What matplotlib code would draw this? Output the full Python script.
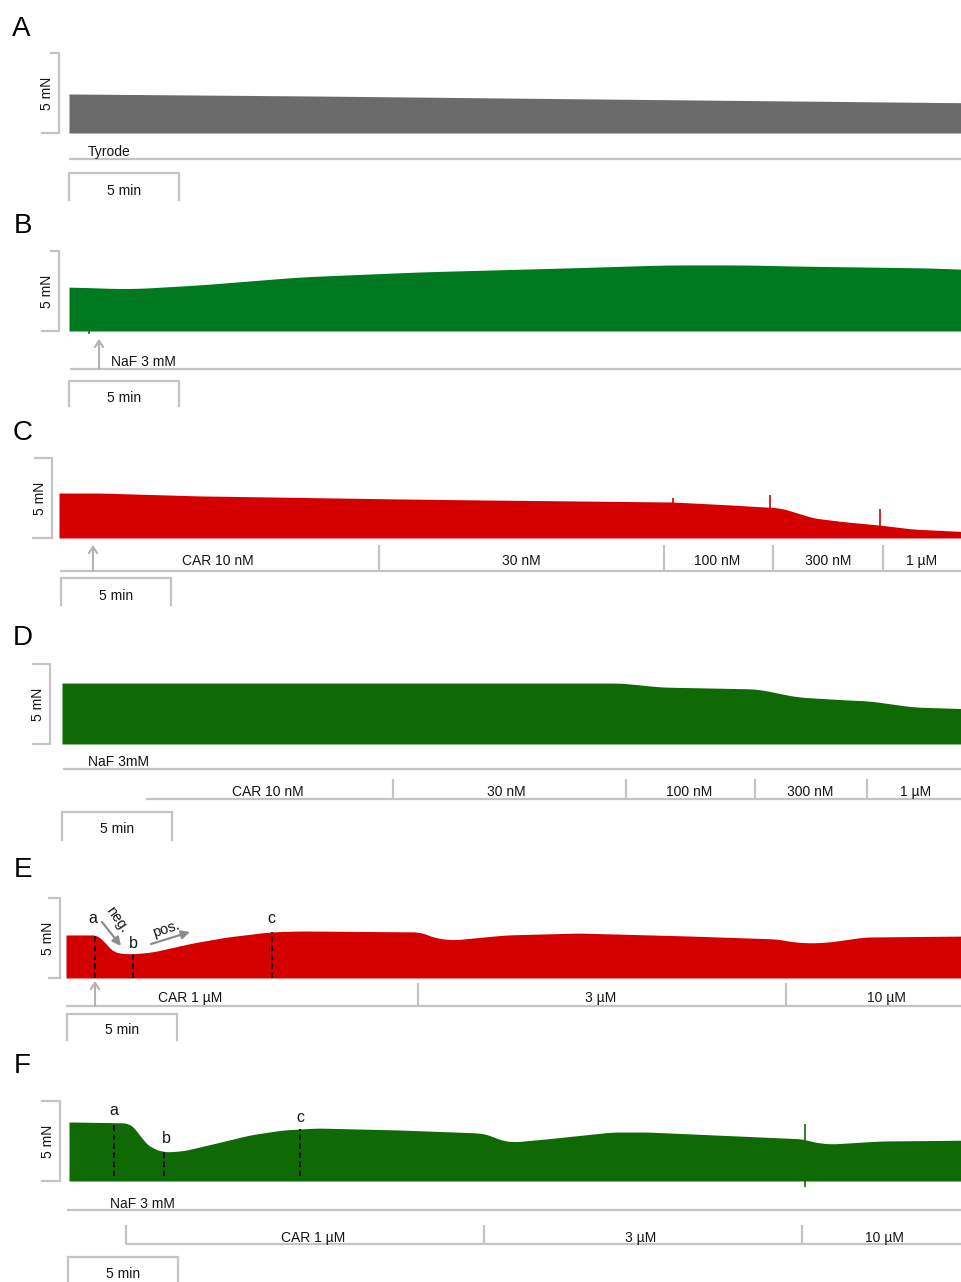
import matplotlib.pyplot as plt
import numpy as np

plt.rcParams['font.family'] = ['Liberation Sans', 'DejaVu Sans']

W, H = 961, 1282
PX_MIN = 22.0   # pixels per minute on the page
PX_MN = 16.0    # pixels per mN on the page

# ---- traces: minutes from start of recording, upper envelope of twitches (mN)
t_A = [0, 11.4, 19.6, 28.7, 41.5]
top_A = [2.44, 2.31, 2.19, 2.06, 1.88]

t_B = [0, 2.77, 5.95, 10.5, 15.9, 22.6, 27.2, 30.8, 32.9, 39.2, 41.5]
top_B = [2.75, 2.63, 2.88, 3.38, 3.69, 3.94, 4.13, 4.13, 4.06, 3.94, 3.81]

t_C = [0, 1.86, 6.4, 15.5, 19.1, 27.9, 30.6, 32.8, 34.3, 35.8, 37.3, 38.8, 41.5]
top_C = [2.81, 2.81, 2.63, 2.44, 2.38, 2.25, 2.06, 1.88, 1.25, 1.0, 0.81, 0.56, 0.38]
spike_t_C = [27.9, 32.3, 37.3]
spike_top_C = [2.5, 2.69, 1.81]

t_D = [0, 19.0, 25.4, 27.2, 31.6, 33.4, 35.7, 36.7, 38.7, 41.5]
top_D = [3.81, 3.81, 3.81, 3.56, 3.44, 2.94, 2.75, 2.69, 2.31, 2.19]

t_E = [0, 1.55, 1.77, 2.0, 2.32, 3.0, 3.95, 5.77, 7.32, 9.27, 10.6, 16.1, 16.8,
       17.6, 20.0, 23.3, 28.2, 32.3, 33.1, 33.9, 34.7, 36.3, 41.5]
top_E = [2.69, 2.69, 2.19, 1.75, 1.56, 1.5, 1.63, 2.19, 2.56, 2.88, 2.94, 2.88, 2.5,
         2.38, 2.69, 2.81, 2.63, 2.44, 2.25, 2.19, 2.25, 2.56, 2.63]
marks_E = [1.32, 3.05, 9.36]

t_F = [0, 2.77, 3.09, 3.32, 3.68, 4.27, 5.18, 6.73, 8.23, 9.73, 11.3, 15.0, 18.7,
       19.1, 19.6, 20.2, 21.7, 24.7, 26.3, 29.3, 33.4, 33.8, 34.6, 36.9, 41.5]
top_F = [3.69, 3.63, 3.19, 2.56, 2.13, 1.81, 1.88, 2.38, 2.88, 3.19, 3.31, 3.19, 3.0,
         2.88, 2.56, 2.44, 2.63, 3.06, 3.06, 2.88, 2.63, 2.44, 2.31, 2.5, 2.56]
marks_F = [2.05, 4.32, 10.5]
spike_F = (33.45, -0.38, 3.56)

# ---- drug application timelines (minutes)
doses_C = ['CAR 10 nM', '30 nM', '100 nM', '300 nM', '1 µM']
edges_C = [14.55, 27.5, 32.45, 37.45]
label_t_C = [7.23, 21.0, 29.9, 34.95, 39.2]

doses_D = ['CAR 10 nM', '30 nM', '100 nM', '300 nM', '1 µM']
start_D = 3.82
edges_D = [15.05, 25.64, 31.5, 36.6]
label_t_D = [9.36, 20.2, 28.5, 34.0, 38.8]

doses_E = ['CAR 1 µM', '3 µM', '10 µM']
edges_E = [16.0, 32.73]
label_t_E = [5.64, 24.3, 37.3]

doses_F = ['CAR 1 µM', '3 µM', '10 µM']
edges_F = [2.59, 18.86, 33.32]
label_t_F = [11.1, 26.0, 37.05]

GREY = '#c4c4c4'
ARROW = '#b2b2b2'
TXT = '#151515'
FS = 10

fig = plt.figure(figsize=(W / 100, H / 100), dpi=100)


def make_panel(name, x0, base):
    ax = fig.add_axes([0, 0, 1, 1], label=name)
    ax.set_xlim(-x0 / PX_MIN, (W - x0) / PX_MIN)
    ax.set_ylim((base - H) / PX_MN, base / PX_MN)
    ax.axis('off')
    px = lambda p: (p - x0) / PX_MIN
    py = lambda p: (base - p) / PX_MN
    return ax, px, py


def trace(ax, t, top, color, win=0.7, step=0.02):
    # resample the read-off envelope and round the corners a little
    tt = np.arange(t[0], t[-1], step)
    yy = np.interp(tt, t, top)
    k = int(win / step)
    ypad = np.pad(yy, (k, k), mode='edge')
    ys = np.convolve(ypad, np.ones(k) / k, mode='same')[k:-k]
    ax.fill_between(tt, 0, ys, color=color, lw=0)


def hline(ax, x1, x2, y):
    ax.plot([x1, x2], [y, y], color=GREY, lw=1.6, solid_capstyle='butt')


def vline(ax, x, y1, y2, color=GREY, lw=1.6):
    ax.plot([x, x], [y1, y2], color=color, lw=lw, solid_capstyle='butt')


def bars(ax, px, py, bar_x, tick_top, tick_bot, tb_left, tb_top, tb_bot, tb_base):
    # 5 mN calibration bracket
    ax.plot([px(bar_x - tick_top), px(bar_x), px(bar_x), px(bar_x - tick_bot)],
            [5, 5, 0, 0], color=GREY, lw=1.6, solid_joinstyle='miter')
    ax.text(px(bar_x - 12), 2.5, '5 mN', rotation=90, ha='center', va='center',
            fontsize=FS, color=TXT)
    # 5 min calibration bracket
    t0 = px(tb_left)
    ax.plot([t0, t0, t0 + 5, t0 + 5], [py(tb_bot), py(tb_top), py(tb_top), py(tb_bot)],
            color=GREY, lw=1.6, solid_joinstyle='miter')
    ax.text(t0 + 2.5, py(tb_base), '5 min', ha='center', va='baseline', fontsize=FS, color=TXT)


def up_arrow(ax, x, y_from, y_to):
    ax.annotate('', xy=(x, y_to), xytext=(x, y_from),
                arrowprops=dict(arrowstyle='->,head_length=0.45,head_width=0.3',
                                color=ARROW, lw=1.5, shrinkA=0, shrinkB=0))


def dose_bar(ax, py, start, end, edges, labels, label_t, y_line, y_tick, y_txt):
    hline(ax, start, end, py(y_line))
    for e in edges:
        vline(ax, e, py(y_line), py(y_tick))
    for lab, t in zip(labels, label_t):
        ax.text(t, py(y_txt), lab, ha='center', va='baseline', fontsize=FS, color=TXT)


def letter(ax, px, py, s, x, y):
    ax.text(px(x), py(y), s, ha='left', va='baseline', fontsize=20, color='black')


def abc_marks(ax, px, py, t, top, marks, base_mn, labels_xy):
    for m, lab, (lx, ly) in zip(marks, 'abc', labels_xy):
        ax.plot([m, m], [base_mn, np.interp(m, t, top) + 0.02], color='black', lw=1.3,
                linestyle=(0, (3, 2)))
        ax.text(px(lx), py(ly), lab, ha='center', va='baseline', fontsize=11.5, color=TXT)


# ---------------- A
ax, px, py = make_panel('A', 69, 133)
letter(ax, px, py, 'A', 12, 36)
trace(ax, t_A, top_A, '#6b6b6b')
ax.text(px(109), py(156), 'Tyrode', ha='center', va='baseline', fontsize=FS, color=TXT)
hline(ax, px(69), px(W), py(159))
bars(ax, px, py, 59, 8, 17, 69, 173, 200, 195)

# ---------------- B
ax, px, py = make_panel('B', 69, 331)
letter(ax, px, py, 'B', 14, 233)
trace(ax, t_B, top_B, '#007a20', win=2.0)
vline(ax, 0.9, 0.05, -0.2, color='#007a20', lw=1.2)
up_arrow(ax, px(99), py(369), py(339))
ax.text(px(111), py(366), 'NaF 3 mM', ha='left', va='baseline', fontsize=FS, color=TXT)
hline(ax, px(70), px(W), py(369))
bars(ax, px, py, 59, 8, 17, 69, 381, 406, 402)

# ---------------- C
ax, px, py = make_panel('C', 59, 538)
letter(ax, px, py, 'C', 13, 440)
trace(ax, t_C, top_C, '#d40000')
for st, sh in zip(spike_t_C, spike_top_C):
    vline(ax, st, np.interp(st, t_C, top_C) - 0.1, sh, color='#d40000', lw=1.2)
up_arrow(ax, px(93), py(571), py(545))
dose_bar(ax, py, px(60), px(W), edges_C, doses_C, label_t_C, 571, 545, 565)
bars(ax, px, py, 52, 17, 19, 61, 578, 605, 600)

# ---------------- D
ax, px, py = make_panel('D', 62, 744)
letter(ax, px, py, 'D', 13, 645)
trace(ax, t_D, top_D, '#0f6a06', win=1.0)
ax.text(px(119), py(766), 'NaF 3mM', ha='center', va='baseline', fontsize=FS, color=TXT)
hline(ax, px(63), px(W), py(769))
dose_bar(ax, py, start_D, px(W), edges_D, doses_D, label_t_D, 799, 779, 796)
bars(ax, px, py, 50, 17, 17, 62, 812, 840, 833)

# ---------------- E
ax, px, py = make_panel('E', 66, 978)
letter(ax, px, py, 'E', 14, 877)
trace(ax, t_E, top_E, '#d40000')
abc_marks(ax, px, py, t_E, top_E, marks_E, 0,
          [(93, 923), (133, 948), (271, 923)])
ax.annotate('', xy=(px(121), py(946)), xytext=(px(102), py(922)),
            arrowprops=dict(arrowstyle='-|>,head_length=0.5,head_width=0.25',
                            color='#8c8c8c', lw=1.6, shrinkA=0, shrinkB=0))
ax.text(px(117), py(920), 'neg.', rotation=-55, ha='center', va='center',
        fontsize=10.5, color=TXT, rotation_mode='anchor')
ax.annotate('', xy=(px(190), py(932)), xytext=(px(151), py(944)),
            arrowprops=dict(arrowstyle='-|>,head_length=0.5,head_width=0.25',
                            color='#8c8c8c', lw=1.6, shrinkA=0, shrinkB=0))
ax.text(px(166), py(929), 'pos.', rotation=18, ha='center', va='center',
        fontsize=10.5, color=TXT, rotation_mode='anchor')
up_arrow(ax, px(95), py(1006), py(981))
dose_bar(ax, py, px(66), px(W), edges_E, doses_E, label_t_E, 1006, 983, 1002)
bars(ax, px, py, 60, 11, 11, 67, 1014, 1040, 1034)

# ---------------- F
ax, px, py = make_panel('F', 69, 1181)
letter(ax, px, py, 'F', 14, 1073)
trace(ax, t_F, top_F, '#0f6a06')
vline(ax, spike_F[0], spike_F[1], spike_F[2], color='#0f6a06', lw=1.2)
abc_marks(ax, px, py, t_F, top_F, marks_F, 0.3,
          [(114, 1115), (166, 1143), (300, 1122)])
ax.text(px(142), py(1208), 'NaF 3 mM', ha='center', va='baseline', fontsize=FS, color=TXT)
hline(ax, px(67), px(W), py(1210))
dose_bar(ax, py, edges_F[0], px(W), edges_F, doses_F, label_t_F, 1244, 1225, 1242)
bars(ax, px, py, 60, 18, 18, 68, 1257, 1284, 1278)

fig.savefig('out.png', dpi=100, facecolor='white')
